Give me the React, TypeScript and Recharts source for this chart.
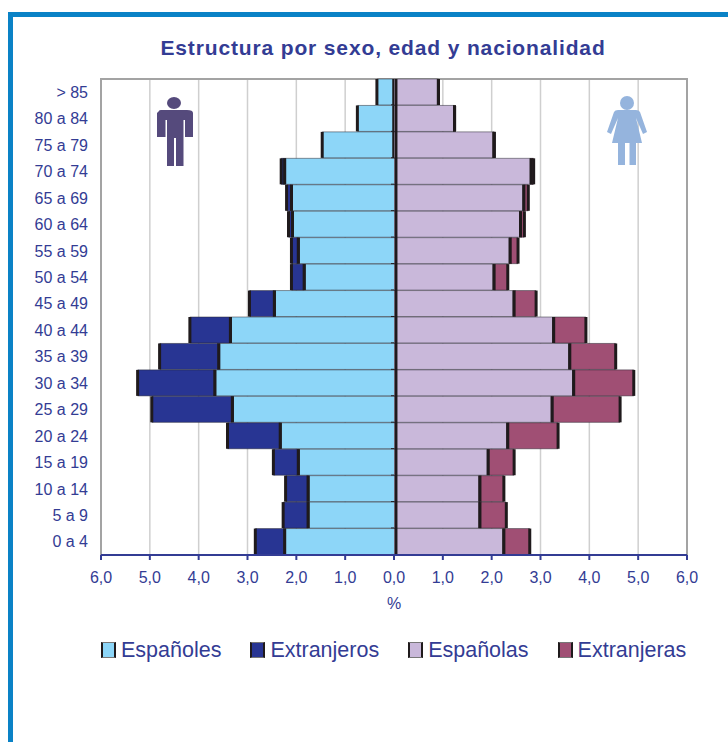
import React from 'react';
import {
  BarChart,
  Bar,
  XAxis,
  YAxis,
  CartesianGrid,
  ReferenceLine,
  ReferenceArea,
  Legend,
} from 'recharts';

const ageGroups = [
  '> 85', '80 a 84', '75 a 79', '70 a 74', '65 a 69', '60 a 64', '55 a 59', '50 a 54', '45 a 49',
  '40 a 44', '35 a 39', '30 a 34', '25 a 29', '20 a 24', '15 a 19', '10 a 14', '5 a 9', '0 a 4',
];
const espanoles = [0.35, 0.75, 1.47, 2.24, 2.1, 2.08, 1.96, 1.84, 2.45, 3.35, 3.59, 3.67, 3.31, 2.33, 1.96, 1.76, 1.76, 2.24];
const extranjeros = [0, 0, 0, 0.07, 0.1, 0.08, 0.14, 0.26, 0.51, 0.83, 1.21, 1.58, 1.65, 1.08, 0.51, 0.46, 0.51, 0.6];
const espanolas = [0.91, 1.24, 2.05, 2.81, 2.66, 2.59, 2.38, 2.05, 2.46, 3.27, 3.6, 3.68, 3.24, 2.33, 1.93, 1.76, 1.76, 2.25];
const extranjeras = [0, 0, 0, 0.05, 0.09, 0.08, 0.16, 0.28, 0.45, 0.66, 0.94, 1.23, 1.39, 1.03, 0.53, 0.49, 0.54, 0.53];
const xTicks = [-6, -5, -4, -3, -2, -1, 0, 1, 2, 3, 4, 5, 6];

const TEXT = '#333c94';
const EDGE = '#1f1a1c';
const COLORS = {
  espanoles: '#8dd6f8',
  extranjeros: '#283593',
  espanolas: '#c9b8da',
  extranjeras: '#a04f74',
};
const FONT = '"Liberation Sans", Arial, sans-serif';

const chartData = ageGroups.map((age, i) => ({
  age,
  espanoles: -espanoles[i],
  extranjeros: -extranjeros[i],
  espanolas: espanolas[i],
  extranjeras: extranjeras[i],
}));

// Excel-style bar: thin line between rows, heavy line on the outer end.
// The outer series repeats the heavy line on its inner end, so it isn't painted over.
function edgedBar(fill: string, side: 'left' | 'right', outerSeries: boolean) {
  return (props: any) => {
    const { x, y, width, height } = props;
    const x0 = Math.min(x, x + width);
    const w = Math.abs(width);
    const outer = side === 'left' ? x0 : x0 + w;
    const inner = side === 'left' ? x0 + w : x0;
    return (
      <g>
        <rect x={x0} y={y} width={w} height={height} fill={fill} />
        <line x1={x0} x2={x0 + w} y1={y + height} y2={y + height} stroke="rgba(40,40,50,0.5)" strokeWidth={1} />
        <line x1={x0} x2={x0 + w} y1={y} y2={y} stroke="rgba(40,40,50,0.5)" strokeWidth={1} />
        <line x1={outer} x2={outer} y1={y} y2={y + height} stroke={EDGE} strokeWidth={3} />
        {outerSeries && <line x1={inner} x2={inner} y1={y} y2={y + height} stroke={EDGE} strokeWidth={3} />}
        {side === 'left' && !outerSeries && (
          <line x1={inner - 3} x2={inner + 1} y1={y + height} y2={y + height} stroke={EDGE} strokeWidth={1.2} />
        )}
      </g>
    );
  };
}

function LegendContent({ payload }: any) {
  return (
    <div style={{ display: 'flex', alignItems: 'center', height: 30, paddingLeft: 88, fontFamily: FONT }}>
      {(payload || []).map((item: any, i: number) => (
        <div key={item.value} style={{ display: 'flex', alignItems: 'center', marginRight: i < 3 ? 29 : 0 }}>
          <span
            style={{
              width: 11,
              height: 14,
              background: item.color,
              borderLeft: `2px solid ${EDGE}`,
              borderRight: `2px solid ${EDGE}`,
              borderTop: '1px solid #777',
              borderBottom: '1px solid #777',
              marginRight: 5,
              display: 'inline-block',
            }}
          />
          <span style={{ fontSize: 21.5, color: TEXT, whiteSpace: 'nowrap' }}>{item.value}</span>
        </div>
      ))}
    </div>
  );
}

function ManIcon() {
  return (
    <svg width={40} height={72} viewBox="0 0 40 72" style={{ position: 'absolute', left: 155, top: 96 }}>
      <ellipse cx={19} cy={7} rx={7} ry={6} fill="#554a7c" />
      <path
        d="M4 15 Q4 14 6 14 L32 14 Q38 14 38 17 L38 41 L30 41 L30 24 L28.5 24 L28.5 70 L21 70 L21 42 L19 42 L19 70 L12 70 L12 24 L10.5 24 L10.5 41 L2 41 L2 17 Z"
        fill="#554a7c"
      />
    </svg>
  );
}

function WomanIcon() {
  return (
    <svg width={44} height={72} viewBox="0 0 44 72" style={{ position: 'absolute', left: 605, top: 96 }}>
      <circle cx={22} cy={7} r={7} fill="#95b4dd" />
      <path
        d="M9 16 Q10 14 13 14 L31 14 Q34 14 35 16 L42 36 L38 38 L31 22 L37 47 L31 47 L31 69 L24.5 69 L24.5 47 L20 47 L20 69 L13 69 L13 47 L7 47 L13 22 L6 38 L2 36 Z"
        fill="#95b4dd"
      />
    </svg>
  );
}

export default function App() {
  return (
    <div style={{ position: 'fixed', left: 0, top: 0, width: 728, height: 742, background: '#fff', overflow: 'hidden' }}>
      <div style={{ position: 'absolute', left: 8, top: 12, width: 720, height: 5, background: '#0a82c6' }} />
      <div style={{ position: 'absolute', left: 8, top: 12, width: 5, height: 730, background: '#0a82c6' }} />
      <div
        style={{
          position: 'absolute',
          left: 0,
          top: 36,
          width: 766,
          textAlign: 'center',
          fontFamily: FONT,
          fontWeight: 700,
          fontSize: 21,
          letterSpacing: 0.86,
          color: TEXT,
        }}
      >
        Estructura por sexo, edad y nacionalidad
      </div>
      <div style={{ position: 'absolute', left: 0, top: 0 }}>
        <BarChart
          width={728}
          height={742}
          data={chartData}
          layout="vertical"
          stackOffset="sign"
          barCategoryGap={0}
          margin={{ top: 79, right: 41, bottom: 77, left: 13 }}
        >
          <CartesianGrid horizontal={false} stroke="#cfcfcf" strokeWidth={1.5} />
          <ReferenceArea x1={-6} x2={6} fill="none" stroke="#a3a3a3" strokeWidth={2} />
          <XAxis
            type="number"
            domain={[-6, 6]}
            ticks={xTicks}
            interval={0}
            height={80}
            stroke="#333c94"
            strokeWidth={2}
            tickSize={5}
            tickMargin={12}
            tick={{ fill: TEXT, fontSize: 16, fontFamily: FONT }}
            tickFormatter={(v: number) => Math.abs(v).toFixed(1).replace('.', ',')}
            label={{ value: '%', position: 'insideTop', offset: 43, fill: TEXT, fontSize: 16, fontFamily: FONT }}
          />
          <YAxis
            type="category"
            dataKey="age"
            width={88}
            interval={0}
            axisLine={false}
            tickLine={false}
            tickSize={0}
            tickMargin={13}
            tick={{ fill: TEXT, fontSize: 16, fontFamily: FONT }}
          />
          <Legend verticalAlign="bottom" height={30} itemSorter={null} content={<LegendContent />} />
          <Bar
            dataKey="espanoles"
            name="Españoles"
            stackId="a"
            fill={COLORS.espanoles}
            shape={edgedBar(COLORS.espanoles, 'left', false)}
            isAnimationActive={false}
          />
          <Bar
            dataKey="extranjeros"
            name="Extranjeros"
            stackId="a"
            fill={COLORS.extranjeros}
            shape={edgedBar(COLORS.extranjeros, 'left', true)}
            isAnimationActive={false}
          />
          <Bar
            dataKey="espanolas"
            name="Españolas"
            stackId="a"
            fill={COLORS.espanolas}
            shape={edgedBar(COLORS.espanolas, 'right', false)}
            isAnimationActive={false}
          />
          <Bar
            dataKey="extranjeras"
            name="Extranjeras"
            stackId="a"
            fill={COLORS.extranjeras}
            shape={edgedBar(COLORS.extranjeras, 'right', true)}
            isAnimationActive={false}
          />
          <ReferenceLine x={0.04} stroke={EDGE} strokeWidth={3} />
        </BarChart>
      </div>
      <ManIcon />
      <WomanIcon />
    </div>
  );
}
